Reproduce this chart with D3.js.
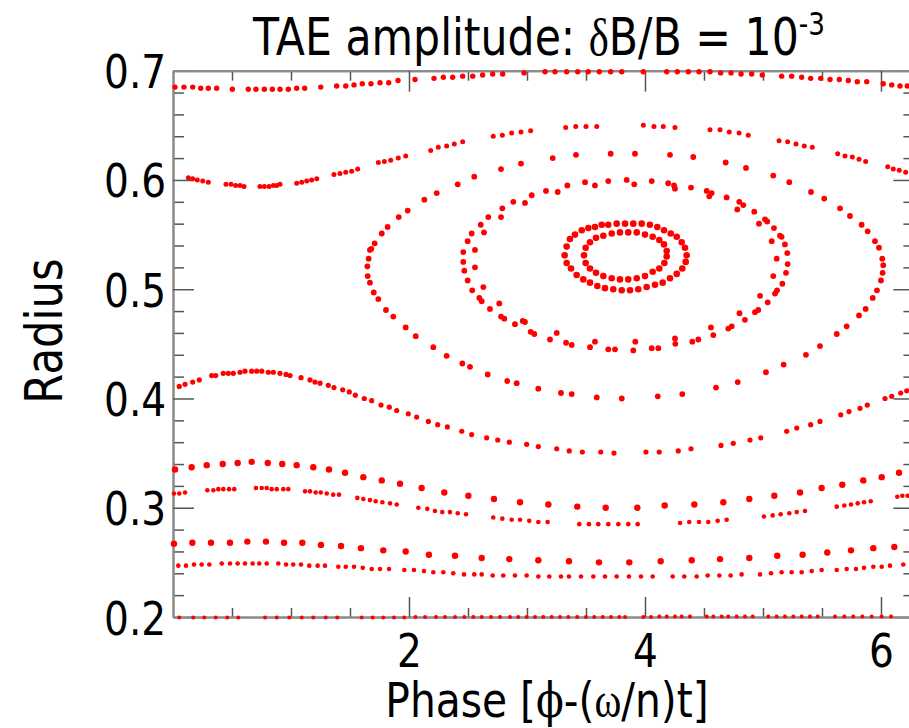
<!DOCTYPE html>
<html>
<head>
<meta charset="utf-8">
<script src="https://cdn.jsdelivr.net/npm/d3@7"></script>
<style>
  html, body { margin: 0; padding: 0; background: #fff; }
  svg { display: block; }
</style>
</head>
<body>
<svg id="chart" width="909" height="728"></svg>
<script>
// Poincaré section of fast-ion orbits in a TAE field: [phase, radius] pairs per orbit.

// Passing orbit along the top edge
const passingTop = [[0.017,0.685],[0.093,0.685],[0.167,0.685],[0.235,0.684],[0.299,0.684],[0.370,0.684],[0.503,0.683],[0.638,0.683],[0.703,0.683],[0.774,0.683],[0.842,0.683],[0.907,0.683],[0.977,0.683],[1.048,0.684],[1.116,0.684],[1.252,0.685],[1.387,0.686],[1.464,0.686],[1.534,0.687],[1.604,0.688],[1.678,0.688],[1.754,0.689],[1.828,0.689],[1.907,0.691],[2.051,0.692],[2.212,0.693],[2.291,0.694],[2.370,0.694],[2.455,0.695],[2.540,0.695],[2.624,0.696],[2.709,0.697],[2.794,0.697],[2.975,0.698],[3.153,0.699],[3.237,0.699],[3.336,0.699],[3.430,0.699],[3.519,0.699],[3.613,0.699],[3.709,0.699],[3.803,0.699],[3.986,0.699],[4.184,0.699],[4.274,0.699],[4.367,0.699],[4.458,0.699],[4.551,0.699],[4.641,0.698],[4.729,0.698],[4.814,0.697],[4.904,0.697],[4.994,0.696],[5.158,0.695],[5.243,0.695],[5.328,0.694],[5.404,0.693],[5.489,0.693],[5.568,0.692],[5.647,0.692],[5.723,0.691],[5.799,0.690],[5.879,0.690],[6.019,0.688],[6.091,0.687],[6.161,0.686],[6.223,0.686]];

// Orbit just above the island
const upperBoundary = [[0.130,0.602],[0.167,0.601],[0.206,0.600],[0.252,0.599],[0.299,0.598],[0.449,0.596],[0.492,0.596],[0.531,0.595],[0.568,0.595],[0.602,0.594],[0.737,0.594],[0.774,0.594],[0.814,0.594],[0.850,0.595],[0.879,0.595],[0.907,0.596],[1.048,0.597],[1.091,0.598],[1.133,0.599],[1.175,0.600],[1.218,0.601],[1.364,0.605],[1.415,0.606],[1.464,0.607],[1.514,0.608],[1.565,0.610],[1.740,0.616],[1.791,0.617],[1.845,0.618],[1.909,0.620],[1.972,0.622],[2.184,0.627],[2.248,0.630],[2.319,0.631],[2.384,0.633],[2.455,0.635],[2.714,0.640],[2.791,0.641],[2.870,0.643],[2.949,0.644],[3.031,0.645],[3.328,0.648],[3.413,0.649],[3.500,0.649],[3.591,0.649],[3.986,0.650],[4.076,0.649],[4.155,0.649],[4.254,0.648],[4.551,0.646],[4.636,0.646],[4.714,0.644],[4.797,0.643],[4.875,0.641],[5.136,0.636],[5.209,0.635],[5.280,0.633],[5.350,0.631],[5.418,0.630],[5.633,0.624],[5.695,0.622],[5.757,0.621],[5.814,0.619],[5.870,0.617],[6.057,0.612],[6.104,0.610],[6.155,0.609],[6.209,0.607]];

// Orbit just below the island
const lowerBoundary = [[0.053,0.411],[0.102,0.413],[0.167,0.415],[0.223,0.417],[0.328,0.421],[0.362,0.421],[0.426,0.423],[0.469,0.423],[0.511,0.423],[0.568,0.424],[0.610,0.425],[0.667,0.425],[0.709,0.425],[0.752,0.425],[0.808,0.424],[0.850,0.424],[0.907,0.423],[0.958,0.422],[0.992,0.421],[1.085,0.419],[1.161,0.417],[1.203,0.415],[1.246,0.414],[1.316,0.412],[1.364,0.410],[1.438,0.408],[1.494,0.406],[1.545,0.403],[1.621,0.400],[1.684,0.398],[1.763,0.394],[1.833,0.392],[1.896,0.389],[1.994,0.386],[2.065,0.383],[2.164,0.379],[2.243,0.376],[2.325,0.374],[2.447,0.370],[2.531,0.367],[2.658,0.364],[2.752,0.362],[2.850,0.360],[2.997,0.358],[3.096,0.356],[3.252,0.354],[3.358,0.352],[3.469,0.351],[3.625,0.351],[3.737,0.350],[4.008,0.351],[4.121,0.351],[4.282,0.352],[4.390,0.354],[4.644,0.357],[4.748,0.359],[4.890,0.362],[4.981,0.364],[5.201,0.370],[5.286,0.373],[5.404,0.376],[5.483,0.379],[5.659,0.385],[5.729,0.388],[5.822,0.391],[5.884,0.394],[6.034,0.400],[6.091,0.402],[6.167,0.405],[6.218,0.407]];

// Trapped orbits inside the island, outermost first
const islandOrbit1 = [[4.212,0.623],[3.915,0.624],[3.709,0.624],[3.415,0.623],[3.218,0.620],[2.949,0.615],[2.780,0.610],[2.553,0.603],[2.413,0.596],[2.235,0.588],[2.130,0.582],[1.989,0.572],[1.913,0.566],[1.819,0.557],[1.769,0.551],[1.709,0.542],[1.681,0.537],[1.669,0.536],[1.658,0.528],[1.647,0.521],[1.650,0.512],[1.669,0.506],[1.701,0.497],[1.740,0.491],[1.805,0.481],[1.867,0.475],[1.972,0.465],[2.057,0.457],[2.206,0.447],[2.319,0.439],[2.452,0.432],[2.517,0.429],[2.667,0.422],[2.833,0.416],[2.913,0.414],[3.096,0.409],[3.288,0.405],[3.379,0.404],[3.591,0.401],[3.803,0.400],[4.108,0.402],[4.316,0.404],[4.602,0.410],[4.786,0.415],[5.025,0.424],[5.175,0.431],[5.364,0.440],[5.483,0.448],[5.625,0.459],[5.709,0.466],[5.814,0.476],[5.870,0.482],[5.930,0.492],[5.966,0.499],[6.000,0.508],[6.014,0.515],[6.019,0.522],[6.011,0.528],[5.983,0.538],[5.949,0.544],[5.887,0.553],[5.836,0.559],[5.737,0.567],[5.653,0.574],[5.519,0.583],[5.407,0.589],[5.223,0.598],[5.087,0.604],[4.856,0.611],[4.684,0.616],[4.409,0.621]];

const islandOrbit2 = [[3.161,0.590],[3.342,0.595],[3.492,0.598],[3.689,0.599],[3.845,0.600],[4.057,0.599],[4.197,0.597],[4.390,0.593],[4.523,0.590],[4.565,0.588],[4.692,0.584],[4.799,0.580],[4.833,0.577],[4.926,0.571],[5.017,0.564],[5.036,0.562],[5.093,0.556],[5.144,0.549],[5.158,0.548],[5.186,0.541],[5.206,0.533],[5.209,0.523],[5.195,0.515],[5.164,0.505],[5.119,0.499],[5.102,0.496],[5.040,0.488],[4.960,0.481],[4.932,0.479],[4.847,0.472],[4.735,0.466],[4.706,0.464],[4.579,0.458],[4.452,0.454],[4.401,0.452],[4.257,0.450],[4.113,0.446],[4.057,0.446],[3.901,0.444],[3.746,0.445],[3.689,0.445],[3.534,0.447],[3.379,0.449],[3.331,0.451],[3.195,0.454],[3.062,0.459],[3.031,0.461],[2.898,0.468],[2.808,0.473],[2.780,0.475],[2.686,0.482],[2.616,0.489],[2.596,0.492],[2.536,0.499],[2.497,0.508],[2.469,0.517],[2.460,0.525],[2.460,0.534],[2.497,0.544],[2.531,0.551],[2.608,0.559],[2.672,0.566],[2.791,0.574],[2.884,0.580],[3.040,0.586]];

const islandOrbit3 = [[3.260,0.589],[3.576,0.595],[3.909,0.596],[4.246,0.595],[4.254,0.592],[4.545,0.585],[4.782,0.573],[4.966,0.560],[5.074,0.544],[5.116,0.528],[5.087,0.512],[4.975,0.494],[4.801,0.478],[4.559,0.465],[4.254,0.455],[3.918,0.452],[3.576,0.452],[3.252,0.460],[2.983,0.470],[2.964,0.471],[2.765,0.487],[2.630,0.502],[2.559,0.520],[2.559,0.536],[2.636,0.552],[2.780,0.566],[2.983,0.579]];

const islandOrbit4 = [[3.336,0.539],[3.364,0.546],[3.407,0.550],[3.464,0.554],[3.520,0.556],[3.576,0.557],[3.633,0.559],[3.689,0.559],[3.760,0.560],[3.831,0.560],[3.901,0.560],[3.972,0.560],[4.042,0.559],[4.104,0.557],[4.161,0.554],[4.218,0.551],[4.269,0.548],[4.311,0.543],[4.339,0.538],[4.353,0.531],[4.345,0.525],[4.316,0.519],[4.269,0.514],[4.212,0.510],[4.150,0.506],[4.085,0.504],[4.014,0.502],[3.943,0.500],[3.873,0.499],[3.803,0.499],[3.731,0.500],[3.661,0.501],[3.596,0.503],[3.534,0.506],[3.477,0.509],[3.421,0.513],[3.373,0.519],[3.336,0.524],[3.319,0.531]];

const islandOrbit5 = [[3.483,0.531],[3.497,0.538],[3.534,0.543],[3.585,0.547],[3.647,0.549],[3.718,0.551],[3.788,0.552],[3.858,0.552],[3.930,0.552],[4.000,0.550],[4.065,0.548],[4.121,0.545],[4.161,0.541],[4.184,0.535],[4.184,0.530],[4.164,0.524],[4.121,0.519],[4.065,0.516],[4.000,0.512],[3.930,0.510],[3.858,0.509],[3.788,0.509],[3.718,0.510],[3.647,0.512],[3.585,0.515],[3.534,0.519],[3.497,0.524]];

// Passing orbits in the lower half
const passingLow1 = [[0.017,0.335],[0.158,0.337],[0.286,0.339],[0.421,0.340],[0.548,0.341],[0.667,0.342],[0.803,0.341],[0.926,0.340],[1.048,0.339],[1.189,0.337],[1.322,0.335],[1.458,0.332],[1.613,0.328],[1.769,0.325],[1.924,0.322],[2.107,0.318],[2.299,0.314],[2.503,0.311],[2.720,0.308],[2.941,0.305],[3.181,0.303],[3.426,0.301],[3.667,0.300],[3.935,0.300],[4.167,0.302],[4.418,0.303],[4.664,0.305],[4.884,0.308],[5.096,0.311],[5.314,0.314],[5.497,0.318],[5.672,0.321],[5.850,0.325],[6.006,0.328],[6.153,0.332]];

const passingLow2 = [[0.008,0.313],[0.053,0.313],[0.102,0.314],[0.291,0.316],[0.342,0.316],[0.384,0.317],[0.426,0.317],[0.475,0.317],[0.519,0.317],[0.703,0.318],[0.752,0.318],[0.794,0.318],[0.836,0.317],[0.879,0.317],[0.935,0.317],[0.977,0.317],[1.119,0.315],[1.161,0.315],[1.209,0.314],[1.252,0.314],[1.303,0.313],[1.358,0.312],[1.407,0.312],[1.562,0.309],[1.613,0.308],[1.669,0.307],[1.718,0.306],[1.774,0.305],[1.839,0.304],[1.896,0.303],[2.079,0.300],[2.155,0.299],[2.220,0.297],[2.282,0.296],[2.347,0.296],[2.413,0.295],[2.483,0.294],[2.714,0.291],[2.791,0.290],[2.870,0.289],[2.941,0.289],[3.019,0.288],[3.096,0.287],[3.175,0.287],[3.443,0.285],[3.525,0.285],[3.604,0.285],[3.689,0.285],[3.774,0.285],[3.858,0.285],[3.938,0.285],[4.297,0.286],[4.375,0.287],[4.458,0.287],[4.536,0.287],[4.616,0.288],[4.692,0.289],[5.008,0.292],[5.082,0.293],[5.150,0.294],[5.223,0.295],[5.286,0.296],[5.356,0.297],[5.625,0.301],[5.689,0.302],[5.746,0.303],[5.803,0.304],[5.856,0.305],[5.913,0.306],[6.138,0.310],[6.181,0.311],[6.226,0.311]];

const passingLow3 = [[0.008,0.267],[0.164,0.268],[0.322,0.268],[0.483,0.268],[0.630,0.269],[0.788,0.269],[0.941,0.268],[1.096,0.268],[1.254,0.266],[1.424,0.265],[1.593,0.263],[1.782,0.261],[1.972,0.260],[2.169,0.257],[2.390,0.256],[2.616,0.254],[2.850,0.253],[3.096,0.252],[3.356,0.251],[3.610,0.250],[3.867,0.250],[4.133,0.251],[4.396,0.252],[4.636,0.253],[4.884,0.254],[5.121,0.256],[5.336,0.257],[5.545,0.259],[5.746,0.261],[5.935,0.263],[6.113,0.264]];

const passingLow4 = [[0.045,0.247],[0.110,0.247],[0.178,0.248],[0.243,0.248],[0.308,0.248],[0.413,0.249],[0.483,0.249],[0.548,0.249],[0.610,0.249],[0.675,0.249],[0.731,0.249],[0.794,0.249],[0.892,0.249],[0.958,0.248],[1.019,0.248],[1.085,0.248],[1.155,0.247],[1.226,0.247],[1.288,0.247],[1.401,0.246],[1.464,0.246],[1.534,0.246],[1.608,0.245],[1.684,0.244],[1.754,0.244],[1.831,0.244],[1.960,0.243],[2.042,0.243],[2.127,0.242],[2.206,0.241],[2.291,0.241],[2.375,0.240],[2.466,0.239],[2.553,0.239],[2.616,0.239],[2.709,0.238],[2.799,0.238],[2.898,0.238],[2.997,0.238],[3.096,0.237],[3.189,0.237],[3.288,0.237],[3.356,0.237],[3.458,0.237],[3.562,0.237],[3.661,0.237],[3.760,0.237],[3.864,0.237],[3.966,0.237],[4.065,0.237],[4.235,0.237],[4.333,0.237],[4.438,0.237],[4.531,0.238],[4.630,0.238],[4.726,0.238],[4.819,0.239],[4.975,0.239],[5.068,0.240],[5.158,0.241],[5.243,0.241],[5.328,0.241],[5.413,0.242],[5.497,0.243],[5.625,0.243],[5.709,0.244],[5.788,0.244],[5.856,0.245],[5.935,0.246],[6.006,0.246],[6.076,0.247],[6.189,0.248]];

// Passing orbit along the bottom edge
const passingBottom = [[0.053,0.1995],[0.172,0.1995],[0.265,0.1995],[0.362,0.1995],[0.460,0.1995],[0.553,0.1995],[0.780,0.1995],[0.879,0.1995],[0.986,0.1995],[1.091,0.1995],[1.189,0.1995],[1.294,0.1995],[1.392,0.1995],[1.599,0.1995],[1.692,0.1995],[1.782,0.1995],[1.873,0.1995],[1.960,0.1995],[2.055,0.200],[2.136,0.200],[2.229,0.200],[2.305,0.200],[2.390,0.200],[2.469,0.200],[2.545,0.200],[2.616,0.200],[2.695,0.200],[2.771,0.200],[2.856,0.200],[2.926,0.200],[2.997,0.200],[3.068,0.200],[3.138,0.200],[3.209,0.200],[3.280,0.200],[3.350,0.200],[3.426,0.200],[3.500,0.200],[3.570,0.200],[3.642,0.200],[3.712,0.200],[3.782,0.200],[3.831,0.200],[3.986,0.200],[4.051,0.200],[4.121,0.2005],[4.184,0.2005],[4.254,0.2005],[4.311,0.2005],[4.381,0.2005],[4.523,0.2005],[4.579,0.2005],[4.650,0.2005],[4.706,0.2005],[4.777,0.2005],[4.847,0.2005],[4.913,0.2005],[5.045,0.2005],[5.116,0.2005],[5.186,0.2005],[5.257,0.2005],[5.328,0.2005],[5.398,0.2005],[5.464,0.2005],[5.610,0.2005],[5.689,0.2005],[5.765,0.2005],[5.842,0.2005],[5.921,0.2005],[6.006,0.2005],[6.085,0.2005]];

// Axis ticks
const yMajorTicks = [0.2, 0.3, 0.4, 0.5, 0.6, 0.7];
const yMinorTicks = [0.22,0.24,0.26,0.28,0.32,0.34,0.36,0.38,0.42,0.44,0.46,0.48,0.52,0.54,0.56,0.58,0.62,0.64,0.66,0.68];
const xMajorTicks = [2, 4, 6];
const xMinorTicks = [0.5, 1, 1.5, 2.5, 3, 3.5, 4.5, 5, 5.5];

// ---------- drawing ----------
const svg = d3.select("#chart");
const FONT = "'DejaVu Sans', Verdana, sans-serif";
const SQUEEZE = 0.85;

const x = d3.scaleLinear().domain([0, 2 * Math.PI]).range([173, 914.4]);
const y = d3.scaleLinear().domain([0.2, 0.7]).range([617, 70.7]);

function styleAxis(g) {
  g.select(".domain").attr("stroke", "#8a8a8a").attr("stroke-width", 2);
  g.selectAll(".tick line").attr("stroke", "#555").attr("stroke-width", 1.5);
  g.selectAll(".tick text")
    .attr("fill", "#000")
    .style("font-family", FONT)
    .style("font-size", "46px");
}

// left
svg.append("g").attr("transform", `translate(${x(0)},0)`)
  .call(d3.axisLeft(y).tickValues(yMinorTicks).tickSize(-11).tickSizeOuter(0).tickFormat(""))
  .call(styleAxis);
const yLeft = svg.append("g").attr("transform", `translate(${x(0)},0)`)
  .call(d3.axisLeft(y).tickValues(yMajorTicks).tickSize(-21).tickSizeOuter(0).tickPadding(8).tickFormat(d3.format(".1f")))
  .call(styleAxis);
yLeft.selectAll(".tick text").attr("dy", "0.37em").attr("transform", `scale(${SQUEEZE},1)`);

// right
svg.append("g").attr("transform", `translate(${x(2 * Math.PI)},0)`)
  .call(d3.axisRight(y).tickValues(yMinorTicks).tickSize(-11).tickSizeOuter(0).tickFormat(""))
  .call(styleAxis);
svg.append("g").attr("transform", `translate(${x(2 * Math.PI)},0)`)
  .call(d3.axisRight(y).tickValues(yMajorTicks).tickSize(-21).tickSizeOuter(0).tickFormat(""))
  .call(styleAxis);

// bottom
svg.append("g").attr("transform", `translate(0,${y(0.2)})`)
  .call(d3.axisBottom(x).tickValues(xMinorTicks).tickSize(-9).tickSizeOuter(0).tickFormat(""))
  .call(styleAxis);
const xBottom = svg.append("g").attr("transform", `translate(0,${y(0.2)})`)
  .call(d3.axisBottom(x).tickValues(xMajorTicks).tickSize(-20).tickSizeOuter(0).tickPadding(17).tickFormat(d3.format("d")))
  .call(styleAxis);
xBottom.selectAll(".tick text").attr("transform", `scale(${SQUEEZE},1)`);

// top
svg.append("g").attr("transform", `translate(0,${y(0.7)})`)
  .call(d3.axisTop(x).tickValues(xMinorTicks).tickSize(-10).tickSizeOuter(0).tickFormat(""))
  .call(styleAxis);
svg.append("g").attr("transform", `translate(0,${y(0.7)})`)
  .call(d3.axisTop(x).tickValues(xMajorTicks).tickSize(-21).tickSizeOuter(0).tickFormat(""))
  .call(styleAxis);

// orbit points
const orbits = [
  { pts: passingTop,     r: 2.7 },
  { pts: upperBoundary,  r: 2.5 },
  { pts: islandOrbit1,   r: 2.9 },
  { pts: islandOrbit2,   r: 2.9 },
  { pts: islandOrbit3,   r: 2.9 },
  { pts: islandOrbit4,   r: 3.3 },
  { pts: islandOrbit5,   r: 3.3 },
  { pts: lowerBoundary,  r: 2.6 },
  { pts: passingLow1,    r: 3.2 },
  { pts: passingLow2,    r: 2.3 },
  { pts: passingLow3,    r: 3.2 },
  { pts: passingLow4,    r: 2.3 },
  { pts: passingBottom,  r: 2.0 }
];

const dots = svg.append("g").attr("fill", "#ff0000");
orbits.forEach(o => {
  dots.append("g").selectAll("circle")
    .data(o.pts)
    .join("circle")
    .attr("cx", d => x(d[0]))
    .attr("cy", d => y(d[1]))
    .attr("r", o.r);
});

// titles
const title = svg.append("text")
  .attr("transform", `translate(539,55) scale(0.82,1)`)
  .attr("text-anchor", "middle")
  .style("font-family", FONT).style("font-size", "52px").attr("fill", "#000");
title.append("tspan").text("TAE amplitude: ");
title.append("tspan").style("font-family", "'Liberation Serif', 'DejaVu Serif', serif").text("δ");
title.append("tspan").text("B/B = 10");
title.append("tspan").attr("dy", -20).style("font-size", "32px").text("-3");

const xTitle = svg.append("text")
  .attr("transform", `translate(547,717) scale(${SQUEEZE},1)`)
  .attr("text-anchor", "middle")
  .style("font-family", FONT).style("font-size", "48px").attr("fill", "#000");
xTitle.append("tspan").text("Phase [");
xTitle.append("tspan").style("font-family", "'DejaVu Serif', serif").text("ϕ");
xTitle.append("tspan").text("-(");
xTitle.append("tspan").style("font-family", "'Liberation Serif', 'DejaVu Serif', serif").text("ω");
xTitle.append("tspan").text("/n)t]");

svg.append("text")
  .attr("transform", `translate(62,331) rotate(-90) scale(${SQUEEZE},1)`)
  .attr("text-anchor", "middle")
  .style("font-family", FONT).style("font-size", "51px").attr("fill", "#000")
  .text("Radius");
</script>
</body>
</html>
